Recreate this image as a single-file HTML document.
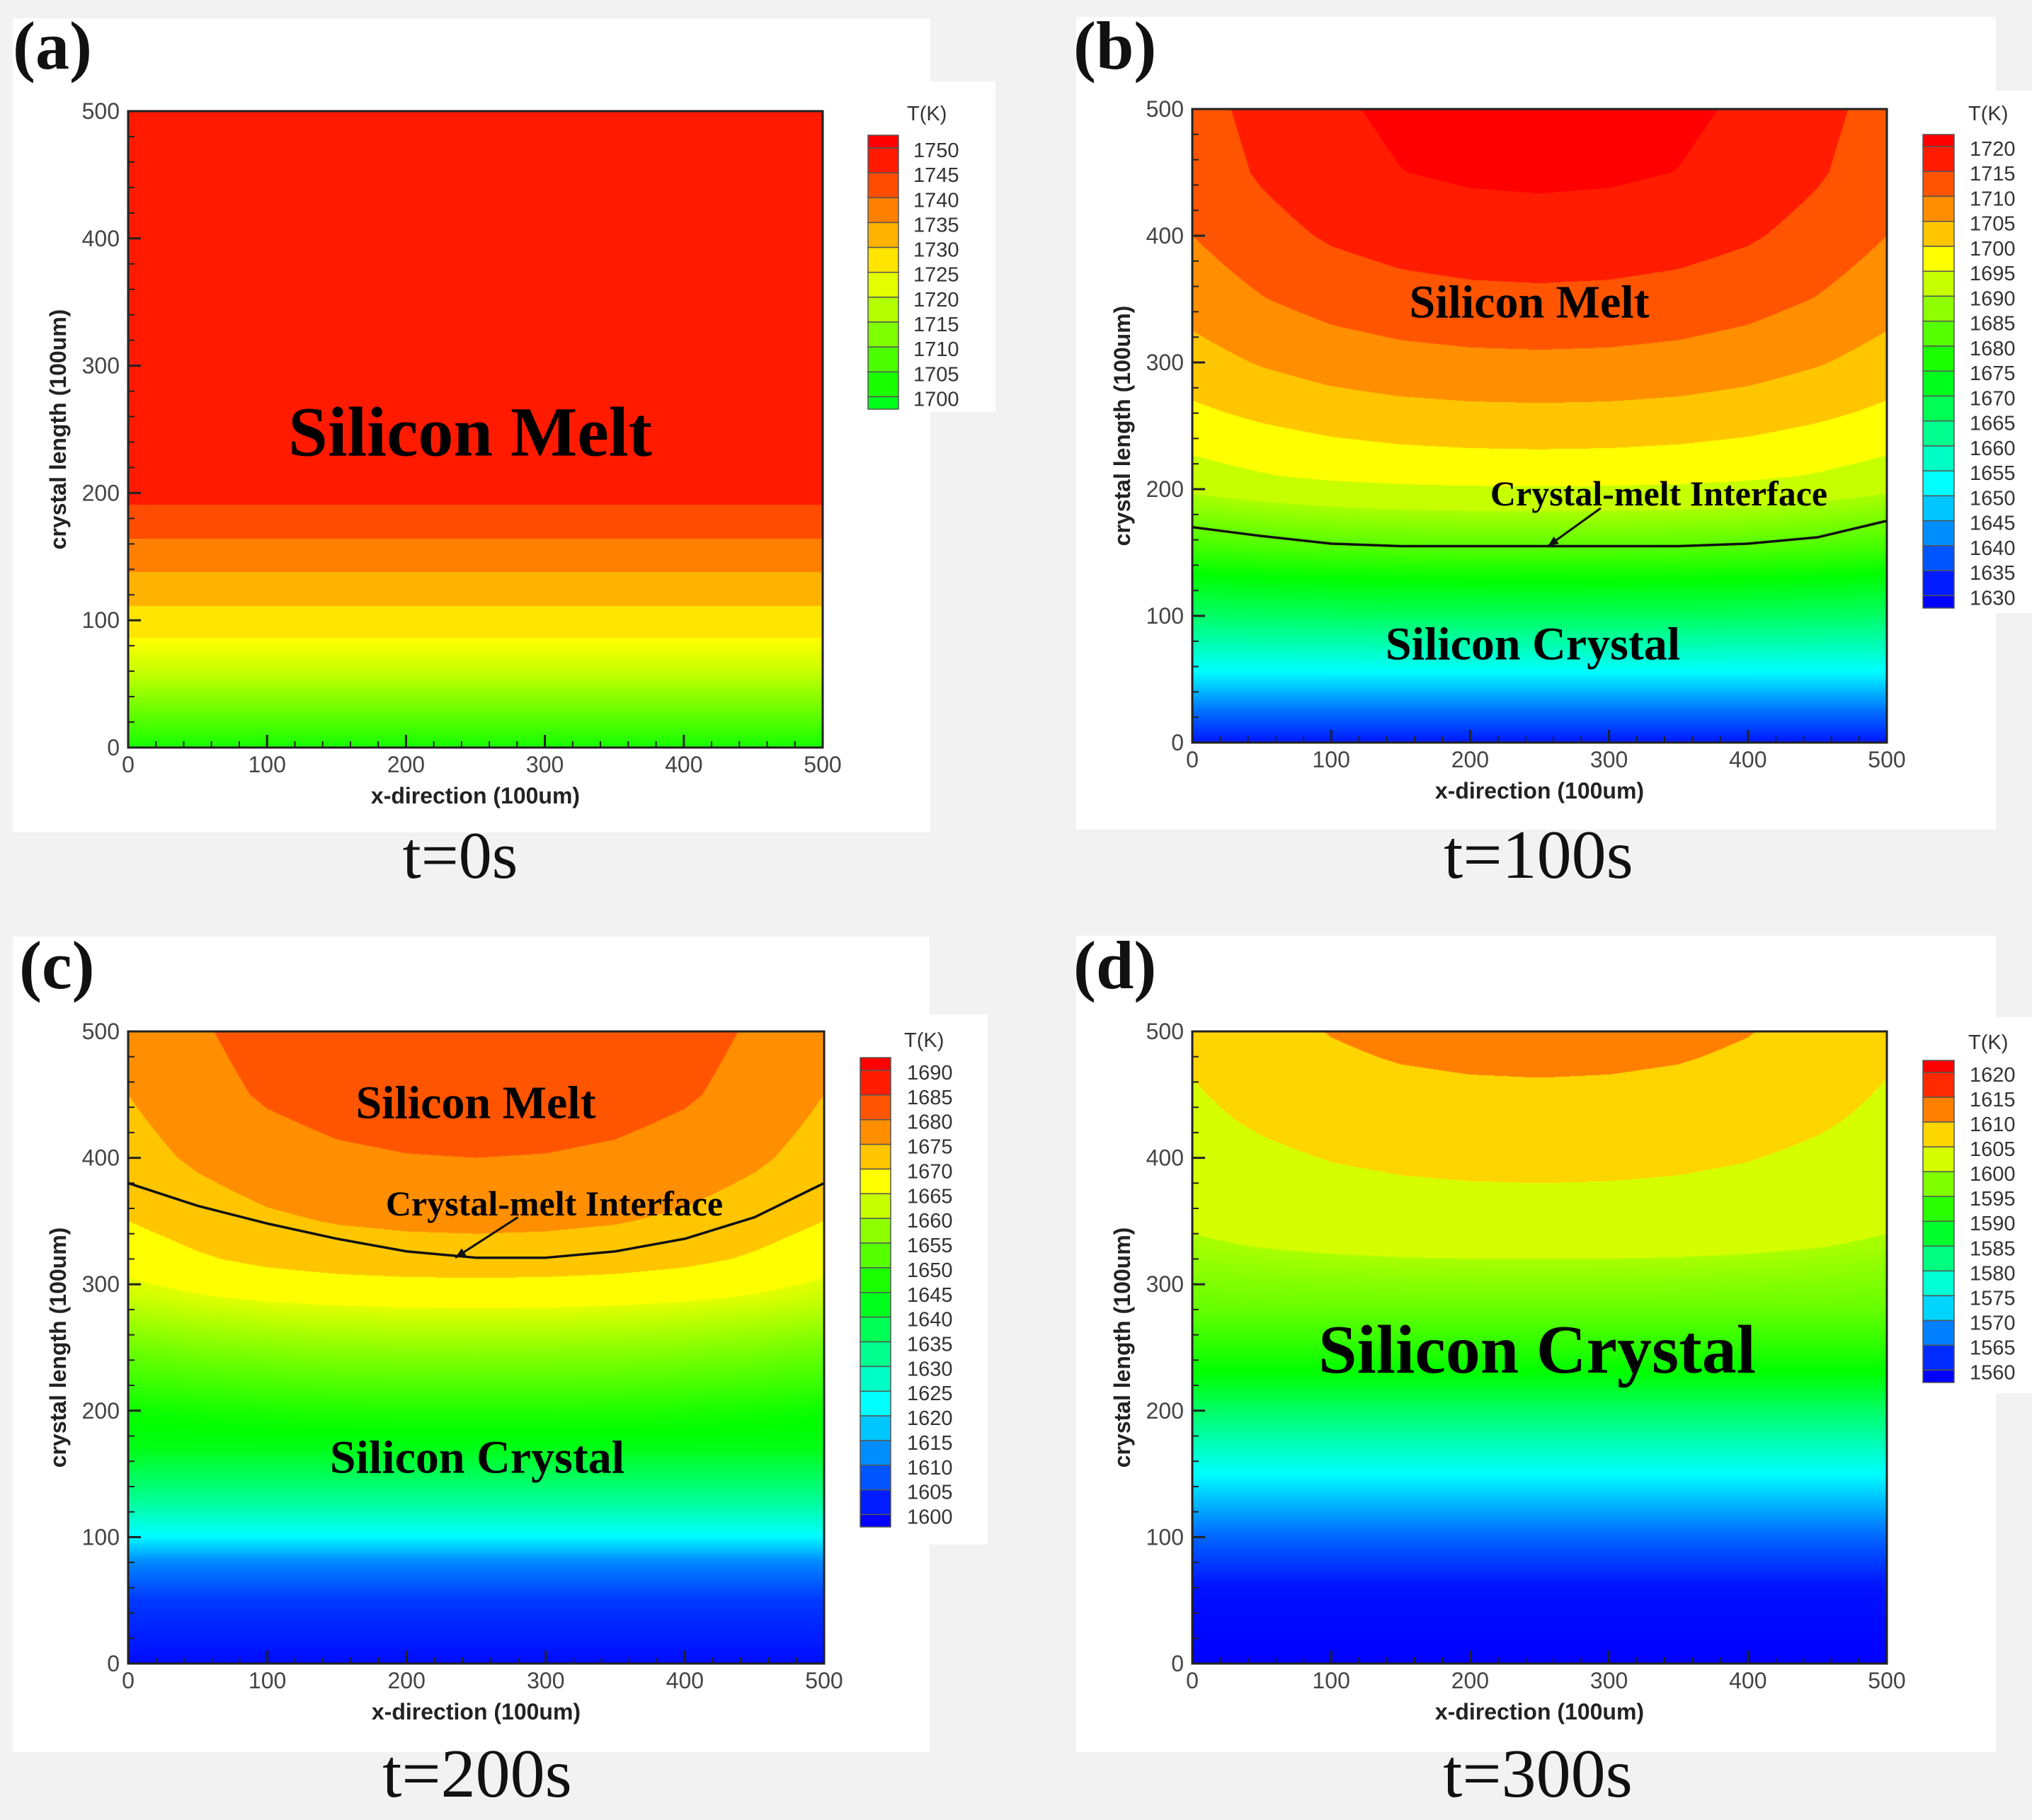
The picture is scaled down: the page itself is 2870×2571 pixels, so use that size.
<!DOCTYPE html>
<html><head><meta charset="utf-8">
<style>
html,body{margin:0;padding:0;background:#f2f2f2;}
#root{position:relative;width:2870px;height:2571px;overflow:hidden;background:#f2f2f2;}
canvas{position:absolute;}
svg{position:absolute;left:0;top:0;}
</style></head>
<body>
<div id="root">
<canvas id="cA"></canvas>
<canvas id="cB"></canvas>
<canvas id="cC"></canvas>
<canvas id="cD"></canvas>
<svg id="svg" width="2870" height="2571" xmlns="http://www.w3.org/2000/svg"></svg>
</div>
<script>
// ---- data (temperature fields) ----
const xNodes = [0,50,100,150,200,250,300,350,400,450,500];
const xEdgeWeight = [1,0.6,0.3,0.12,0.03,0,0.03,0.12,0.3,0.6,1];

const aYs = [0,61,86,111,138,164,191,200,500];
const aCenterT = [1702,1720,1725,1730,1735,1740,1745,1747.5,1748];
const aEdgeT = [1702,1720,1725,1730,1735,1740,1745,1747.5,1748];

const bYs = [0,25,55,100,155,210,260,300,350,400,450,500];
const bCenterT = [1632,1640,1652,1667,1683,1697,1704,1709,1714,1718,1721,1722];
const bEdgeT = [1632,1640,1652,1666,1681,1693,1699,1703,1707,1710,1712,1713];

const cYs = [0,50,80,100,130,170,200,250,290,320,350,400,450,500];
const cCenterT = [1601,1605,1612,1622,1632,1643,1648,1658,1667,1673,1676,1680,1683,1684.5];
const cEdgeT = [1601,1605,1612,1622,1632,1643,1646,1655,1663,1667,1670,1673,1675,1676];

const dYs = [0,60,100,150,200,230,280,330,380,430,480,500];
const dCenterT = [1560,1561,1566,1575,1584,1590,1596,1601,1605,1608,1611,1612];
const dEdgeT = [1560,1561,1566,1575,1584,1590,1596,1599.5,1602,1604,1605.5,1606];

const bInterfaceX = [0,50,100,150,200,250,300,350,400,450,500];
const bInterfaceY = [170,163,157,155,155,155,155,155,157,162,175];
const cInterfaceX = [0,50,100,150,200,250,300,350,400,450,500];
const cInterfaceY = [380,362,348,336,326,321,321,326,336,353,380];

const aLegend = [1750,1745,1740,1735,1730,1725,1720,1715,1710,1705,1700];
const bLegend = [1720,1715,1710,1705,1700,1695,1690,1685,1680,1675,1670,1665,1660,1655,1650,1645,1640,1635,1630];
const cLegend = [1690,1685,1680,1675,1670,1665,1660,1655,1650,1645,1640,1635,1630,1625,1620,1615,1610,1605,1600];
const dLegend = [1620,1615,1610,1605,1600,1595,1590,1585,1580,1575,1570,1565,1560];

const axisTicks = [0,100,200,300,400,500];

// ---- layout ----
const panels = [
 {id:'a', canvas:'cA', L:181,R:1162,T:157,B:1056, ys:aYs, ct:aCenterT, et:aEdgeT, tmin:1650, tmax:1750, band:1725, legend:aLegend,
  box:[18,26,1296,1150], lbox:[1217,115,189,467], bar:[1226,1269,191,578], lab0:209, labX:1290, tk:[1281,160],
  plabel:['(a)',18,97], tlabel:['t=0s',650,1240,94]},
 {id:'b', canvas:'cB', L:1684,R:2665,T:154,B:1049, ys:bYs, ct:bCenterT, et:bEdgeT, tmin:1630, tmax:1720, band:1690, legend:bLegend,
  box:[1520,24,1299,1148], lbox:[2705,128,165,738], bar:[2716,2760,190,859], lab0:207, labX:2782, tk:[2780,160],
  plabel:['(b)',1516,97], tlabel:['t=100s',2173,1240,98]},
 {id:'c', canvas:'cC', L:181,R:1164,T:1457,B:2350, ys:cYs, ct:cCenterT, et:cEdgeT, tmin:1600, tmax:1690, band:1665, legend:cLegend,
  box:[18,1323,1295,1152], lbox:[1199,1433,196,749], bar:[1215,1258,1494,2157], lab0:1512, labX:1281, tk:[1277,1469],
  plabel:['(c)',27,1396], tlabel:['t=200s',674,2538,98]},
 {id:'d', canvas:'cD', L:1684,R:2665,T:1457,B:2350, ys:dYs, ct:dCenterT, et:dEdgeT, tmin:1560, tmax:1620, band:1600, legend:dLegend,
  box:[1520,1322,1299,1153], lbox:[2705,1437,165,531], bar:[2716,2760,1498,1953], lab0:1515, labX:2782, tk:[2780,1472],
  plabel:['(d)',1516,1396], tlabel:['t=300s',2172,2538,98]}
];

function interp(xs, vs, x){
  if(x<=xs[0]) return vs[0];
  for(let i=1;i<xs.length;i++){ if(x<=xs[i]){ const f=(x-xs[i-1])/(xs[i]-xs[i-1]); return vs[i-1]+f*(vs[i]-vs[i-1]); } }
  return vs[vs.length-1];
}
function rainbow(t){
  t=Math.max(0,Math.min(1,t));
  let r,g,b;
  if(t<0.25){ r=0; g=t/0.25*255; b=255; }
  else if(t<0.5){ r=0; g=255; b=(1-(t-0.25)/0.25)*255; }
  else if(t<0.75){ r=(t-0.5)/0.25*255; g=255; b=0; }
  else { r=255; g=(1-(t-0.75)/0.25)*255; b=0; }
  return [Math.round(r),Math.round(g),Math.round(b)];
}
function bandColor(p, T){
  const q=Math.floor(T/5)*5+2.5;
  return rainbow((q-p.tmin)/(p.tmax-p.tmin));
}
function fieldColor(p, T){
  if(T>=p.band) return bandColor(p,T);
  return rainbow((T-p.tmin)/(p.tmax-p.tmin));
}

const NS='http://www.w3.org/2000/svg';
const svg=document.getElementById('svg');
function el(tag, attrs, parent){
  const e=document.createElementNS(NS,tag);
  for(const k in attrs) e.setAttribute(k, attrs[k]);
  (parent||svg).appendChild(e); return e;
}

panels.forEach(p=>{
  const xs=v=>p.L+(v/500)*(p.R-p.L);
  const ys=v=>p.B-(v/500)*(p.B-p.T);
  const d=document.createElement('div');
  d.style.cssText=`position:absolute;left:${p.box[0]}px;top:${p.box[1]}px;width:${p.box[2]}px;height:${p.box[3]}px;background:#fff;`;
  
  
  document.getElementById('root').insertBefore(d, document.getElementById('cA'));
  const d2=document.createElement('div');
  d2.style.cssText=`position:absolute;left:${p.lbox[0]}px;top:${p.lbox[1]}px;width:${p.lbox[2]}px;height:${p.lbox[3]}px;background:#fff;`;
  
  
  document.getElementById('root').insertBefore(d2, document.getElementById('cA'));

  const cv=document.getElementById(p.canvas);
  const W=p.R-p.L, H=p.B-p.T;
  cv.width=W; cv.height=H; cv.style.left=p.L+'px'; cv.style.top=p.T+'px';
  const ctx=cv.getContext('2d'); const img=ctx.createImageData(W,H);
  const wx=[]; for(let i=0;i<W;i++) wx.push(interp(xNodes,xEdgeWeight,(i+0.5)/W*500));
  for(let j=0;j<H;j++){
    const yv=(H-j-0.5)/H*500;
    const c=interp(p.ys,p.ct,yv), e=interp(p.ys,p.et,yv);
    for(let i=0;i<W;i++){
      const T=c+(e-c)*wx[i];
      const col=fieldColor(p,T); const k=(j*W+i)*4;
      img.data[k]=col[0]; img.data[k+1]=col[1]; img.data[k+2]=col[2]; img.data[k+3]=255;
    }
  }
  ctx.putImageData(img,0,0);

  const g=el('g',{});
  
  

  const fr=el('rect',{x:p.L,y:p.T,width:W,height:H,fill:'none',stroke:'#222','stroke-width':3},g);
  
  
  for(let v=0; v<=500; v+=20){
    const major=(v%100===0); const len=major?18:9;
    const t1=el('line',{x1:xs(v),x2:xs(v),y1:p.B,y2:p.B-len,stroke:'#222','stroke-width':major?3:2},g);
    
    
    const t2=el('line',{x1:p.L,x2:p.L+len,y1:ys(v),y2:ys(v),stroke:'#222','stroke-width':major?3:2},g);
    
    
  }
  axisTicks.forEach(v=>{
    const tx=el('text',{x:xs(v),y:p.B+35,'text-anchor':'middle','font-family':'Liberation Sans, sans-serif','font-size':32,fill:'#444'},g);
    tx.textContent=v;
    
    
    const ty=el('text',{x:p.L-12,y:ys(v)+11,'text-anchor':'end','font-family':'Liberation Sans, sans-serif','font-size':32,fill:'#444'},g);
    ty.textContent=v;
    
    
  });
  const xt=el('text',{x:(p.L+p.R)/2,y:p.B+79,'text-anchor':'middle','font-family':'Liberation Sans, sans-serif','font-size':32,'font-weight':'bold',fill:'#222'},g);
  xt.textContent='x-direction (100um)';
  
  
  const ycx=p.L-88, ycy=(p.T+p.B)/2;
  const yt=el('text',{x:ycx,y:ycy,'text-anchor':'middle','font-family':'Liberation Sans, sans-serif','font-size':32,'font-weight':'bold',fill:'#222',transform:`rotate(-90 ${ycx} ${ycy})`},g);
  yt.textContent='crystal length (100um)';
  
  

  const lg=el('g',{},g);
  
  
  const [bx0,bx1,by0,by1]=p.bar;
  const sp=(by1-p.lab0)/(p.legend.length-0.5);
  const step=p.legend[0]-p.legend[1];
  const tops=[by0].concat(p.legend.map((v,i)=>p.lab0+i*sp)).concat([by1]);
  const vals=[p.legend[0]+step/2].concat(p.legend.map(v=>v-step/2));
  for(let i=0;i<vals.length;i++){
    const col=bandColor(p, vals[i]);
    const r=el('rect',{x:bx0,y:tops[i],width:bx1-bx0,height:Math.max(0,tops[i+1]-tops[i]),fill:`rgb(${col})`,stroke:'#555','stroke-width':1.5},lg);
    
    
  }
  p.legend.forEach((v,i)=>{
    const t=el('text',{x:p.labX,y:p.lab0+i*sp+13,'font-family':'Liberation Sans, sans-serif','font-size':29,fill:'#333'},lg);
    t.textContent=v;
    
    
  });
  const tk=el('text',{x:p.tk[0],y:p.tk[1]+10,'font-family':'Liberation Sans, sans-serif','font-size':29,fill:'#333'},lg);
  tk.textContent='T(K)';
  
  

  const pl=el('text',{x:p.plabel[1],y:p.plabel[2],'font-family':'Liberation Serif, serif','font-size':96,'font-weight':'bold',fill:'#111'},g);
  pl.textContent=p.plabel[0];
  
  
  const tl=el('text',{x:p.tlabel[1],y:p.tlabel[2],'text-anchor':'middle','font-family':'Liberation Serif, serif','font-size':p.tlabel[3],fill:'#111'},g);
  tl.textContent=p.tlabel[0];
  
  
  p.xs=xs; p.ysf=ys; p.g=g;
});

function regionText(p, txt, cx, cy, size, name){
  const t=el('text',{x:cx,y:cy,'text-anchor':'middle','dominant-baseline':'central','font-family':'Liberation Serif, serif','font-size':size,'font-weight':'bold',fill:'#000'},p.g);
  t.textContent=txt;
  
  
}
function interfaceLine(p, X, Y, ax0, ay0, ax1, ay1){
  const pts=X.map((x,i)=>p.xs(x)+','+p.ysf(Y[i])).join(' ');
  const l=el('polyline',{points:pts,fill:'none',stroke:'#111','stroke-width':3.5,'stroke-linejoin':'round'},p.g);
  
  
  const x0=p.xs(ax0),y0=p.ysf(ay0),x1=p.xs(ax1),y1=p.ysf(ay1);
  const a=el('line',{x1:x0,y1:y0,x2:x1,y2:y1,stroke:'#111','stroke-width':3},p.g);
  
  
  const ang=Math.atan2(y1-y0,x1-x0), L=16;
  const hp=[[x1,y1],[x1-L*Math.cos(ang-0.4),y1-L*Math.sin(ang-0.4)],[x1-L*Math.cos(ang+0.4),y1-L*Math.sin(ang+0.4)]];
  const h=el('polygon',{points:hp.map(q=>q.join(',')).join(' '),fill:'#111'},p.g);
  
  
}

regionText(panels[0],'Silicon Melt',664,610,100,'silicon-melt-label');
regionText(panels[1],'Silicon Melt',2160,427,66,'silicon-melt-label');
interfaceLine(panels[1],bInterfaceX,bInterfaceY,294,185,256,155);
regionText(panels[1],'Crystal-melt Interface',2343,697,50,'interface-label');
regionText(panels[1],'Silicon Crystal',2165,910,66,'silicon-crystal-label');
regionText(panels[2],'Silicon Melt',672,1558,66,'silicon-melt-label');
interfaceLine(panels[2],cInterfaceX,cInterfaceY,280,353,235,321);
regionText(panels[2],'Crystal-melt Interface',783,1700,50,'interface-label');
regionText(panels[2],'Silicon Crystal',674,2059,66,'silicon-crystal-label');
regionText(panels[3],'Silicon Crystal',2171,1907,98,'silicon-crystal-label');
</script>
</body></html>
